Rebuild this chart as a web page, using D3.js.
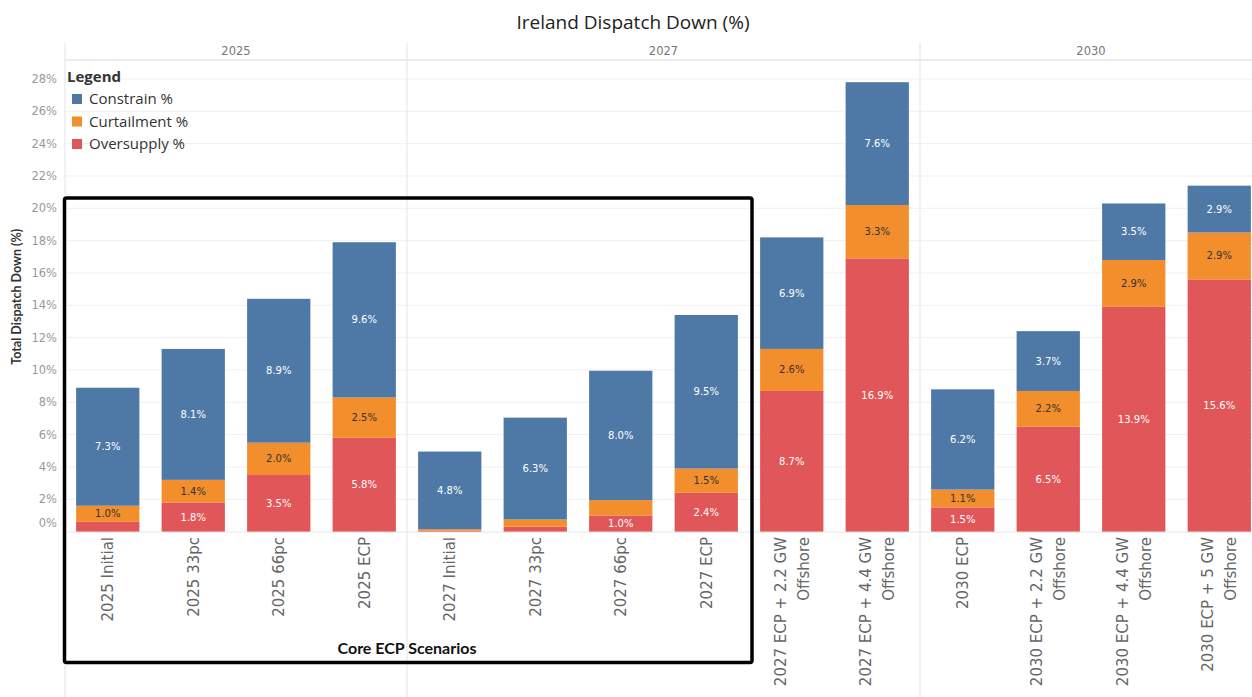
<!DOCTYPE html>
<html>
<head>
<meta charset="utf-8">
<script src="https://cdn.jsdelivr.net/npm/d3@7"></script>
<style>
  html, body { margin: 0; padding: 0; background: #fff; }
  svg { display: block; }
</style>
</head>
<body>
<svg id="chart" width="1252" height="697"></svg>
<script>
// ---------------- DATA ----------------
const categories = [
  "2025 Initial", "2025 33pc", "2025 66pc", "2025 ECP",
  "2027 Initial", "2027 33pc", "2027 66pc", "2027 ECP",
  "2027 ECP + 2.2 GW Offshore", "2027 ECP + 4.4 GW Offshore",
  "2030 ECP", "2030 ECP + 2.2 GW Offshore", "2030 ECP + 4.4 GW Offshore", "2030 ECP + 5 GW Offshore"
];
const panels = ["2025", "2027", "2030"];
const panelSizes = [4, 6, 4];
const oversupply  = [0.6, 1.8, 3.5, 5.8, 0.05, 0.3, 1.0, 2.4, 8.7, 16.9, 1.5, 6.5, 13.9, 15.6];
const curtailment = [1.0, 1.4, 2.0, 2.5, 0.1, 0.45, 0.95, 1.5, 2.6, 3.3, 1.1, 2.2, 2.9, 2.9];
const constrain   = [7.3, 8.1, 8.9, 9.6, 4.8, 6.3, 8.0, 9.5, 6.9, 7.6, 6.2, 3.7, 3.5, 2.9];
const seriesNames = ["Constrain %", "Curtailment %", "Oversupply %"];
const yTicks = [0, 2, 4, 6, 8, 10, 12, 14, 16, 18, 20, 22, 24, 26, 28];

// ---------------- LAYOUT ----------------
const W = 1252, H = 697;
const plotLeft = 65, plotRight = 1262;
const plotTop = 62, plotBottom = 531.6;
const colors = { "Oversupply %": "#e15759", "Curtailment %": "#f28e2b", "Constrain %": "#4e79a7" };
const svg = d3.select("#chart");

const x = d3.scaleBand().domain(categories).range([plotLeft, plotRight]).paddingInner(0.26).paddingOuter(0.13);
const y = d3.scaleLinear().domain([0, 29.05]).range([plotBottom, plotTop]);

// gridlines
svg.append("g").selectAll("line").data(yTicks.filter(d => d > 0)).join("line")
  .attr("x1", plotLeft).attr("x2", W)
  .attr("y1", d => y(d)).attr("y2", d => y(d))
  .attr("stroke", "#f0f0f0").attr("stroke-width", 1);

// header line and baseline
svg.append("line").attr("x1", plotLeft).attr("x2", W).attr("y1", 60).attr("y2", 60)
  .attr("stroke", "#e6e6e6").attr("stroke-width", 1.5);
svg.append("line").attr("x1", plotLeft).attr("x2", W).attr("y1", plotBottom + 0.5).attr("y2", plotBottom + 0.5)
  .attr("stroke", "#e6e6e6").attr("stroke-width", 1);

// panel separators
const step = x.step();
let acc = 0;
const panelBounds = panels.map((p, i) => {
  const x0 = plotLeft + acc * step;
  acc += panelSizes[i];
  const x1 = plotLeft + acc * step;
  return { name: p, x0, x1 };
});
svg.append("g").selectAll("line").data(panelBounds).join("line")
  .attr("x1", d => d.x0).attr("x2", d => d.x0)
  .attr("y1", 43).attr("y2", H)
  .attr("stroke", "#e3e3e3").attr("stroke-width", 1);
svg.append("g").selectAll("text").data(panelBounds).join("text")
  .attr("x", d => (d.x0 + d.x1) / 2).attr("y", 55)
  .attr("text-anchor", "middle")
  .attr("font-family", "DejaVu Sans").attr("font-size", 11.5).attr("fill", "#777")
  .text(d => d.name);

// y axis
const yAxis = d3.axisLeft(y).tickValues(yTicks).tickFormat(d => d + "%").tickSize(0).tickPadding(8);
const yg = svg.append("g").attr("transform", `translate(${plotLeft},0)`).call(yAxis);
yg.select(".domain").remove();
yg.selectAll("text").attr("font-family", "DejaVu Sans").attr("font-size", 11.5).attr("fill", "#999")
  .attr("dy", d => d === 0 ? "-0.45em" : "0.32em");

svg.append("text")
  .attr("transform", `translate(21,${(plotTop + plotBottom) / 2}) rotate(-90)`)
  .attr("text-anchor", "middle")
  .attr("font-family", "Lato").attr("font-weight", "bold").attr("font-size", 12.5).attr("fill", "#333")
  .text("Total Dispatch Down (%)");

// stacked bars
const rows = categories.map((c, i) => ({
  cat: c,
  "Oversupply %": oversupply[i],
  "Curtailment %": curtailment[i],
  "Constrain %": constrain[i]
}));
const stack = d3.stack().keys(["Oversupply %", "Curtailment %", "Constrain %"]);
const layers = stack(rows);

const layerG = svg.append("g").selectAll("g").data(layers).join("g")
  .attr("fill", d => colors[d.key]);
layerG.selectAll("rect").data(d => d.map(s => ({ s, key: d.key }))).join("rect")
  .attr("x", d => x(d.s.data.cat))
  .attr("width", x.bandwidth())
  .attr("y", d => y(d.s[1]))
  .attr("height", d => Math.max(0, y(d.s[0]) - y(d.s[1])));

// value labels
const labelG = svg.append("g");
layers.forEach(layer => {
  layer.forEach(s => {
    const v = s[1] - s[0];
    if (v < 0.99) return;
    labelG.append("text")
      .attr("x", x(s.data.cat) + x.bandwidth() / 2)
      .attr("y", (y(s[0]) + y(s[1])) / 2)
      .attr("dy", "0.35em")
      .attr("text-anchor", "middle")
      .attr("font-family", "DejaVu Sans").attr("font-size", 10)
      .attr("fill", layer.key === "Curtailment %" ? "#333" : "#fff")
      .text(d3.format(".1f")(v) + "%");
  });
});

// x labels
const xl = svg.append("g");
categories.forEach(c => {
  const cx = x(c) + x.bandwidth() / 2;
  const parts = c.includes(" Offshore") ? [c.replace(" Offshore", ""), "Offshore"] : [c];
  const gap = 23;
  parts.forEach((t, k) => {
    const off = (k - (parts.length - 1) / 2) * gap;
    xl.append("text")
      .attr("transform", `translate(${cx + off},537) rotate(-90)`)
      .attr("text-anchor", "end")
      .attr("dy", "0.36em")
      .attr("font-family", "DejaVu Sans").attr("font-size", 15).attr("fill", "#666")
      .text(t);
  });
});

// legend
const lg = svg.append("g");
lg.append("text").attr("x", 67).attr("y", 82)
  .attr("font-family", "Open Sans").attr("font-weight", "bold").attr("font-size", 15).attr("fill", "#333")
  .text("Legend");
seriesNames.forEach((n, i) => {
  const yy = 99 + i * 22.5;
  lg.append("rect").attr("x", 72).attr("y", yy - 5).attr("width", 10).attr("height", 10).attr("fill", colors[n]);
  lg.append("text").attr("x", 89).attr("y", yy).attr("dy", "0.36em")
    .attr("font-family", "Open Sans").attr("font-size", 15).attr("fill", "#333")
    .text(n);
});

// title
svg.append("text").attr("x", 633).attr("y", 29).attr("text-anchor", "middle")
  .attr("font-family", "Open Sans").attr("font-size", 19).attr("fill", "#222")
  .text("Ireland Dispatch Down (%)");

// annotation box
svg.append("rect").attr("x", 64.5).attr("y", 198).attr("width", 687.5).attr("height", 464.5)
  .attr("rx", 2).attr("fill", "none").attr("stroke", "#000").attr("stroke-width", 3.5);
svg.append("text").attr("x", 407).attr("y", 654).attr("text-anchor", "middle")
  .attr("font-family", "Lato").attr("font-weight", "bold").attr("font-size", 16).attr("fill", "#111")
  .text("Core ECP Scenarios");
</script>
</body>
</html>
